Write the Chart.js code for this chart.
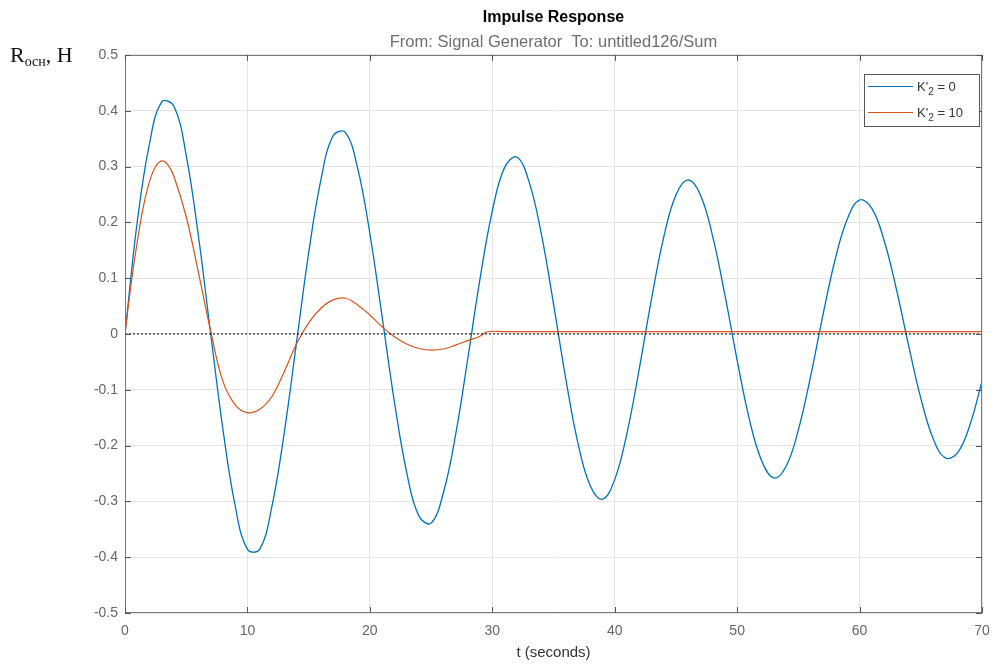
<!DOCTYPE html>
<html>
<head>
<meta charset="utf-8">
<script src="https://cdn.jsdelivr.net/npm/chart.js@4.4.0/dist/chart.umd.min.js"></script>
<style>
html, body { margin: 0; padding: 0; background: #fff; }
</style>
</head>
<body>
<canvas id="chart" width="992" height="664"></canvas>
<script>
// data
var xTicks = [0, 10, 20, 30, 40, 50, 60, 70];
var yTicks = [-0.5, -0.4, -0.3, -0.2, -0.1, 0, 0.1, 0.2, 0.3, 0.4, 0.5];

var blueT = [0, 1, 2, 3, 4, 5, 6, 7, 8, 9, 10, 11, 12, 13, 14, 15, 16, 17, 18, 19, 20,
	21, 22, 23, 24, 25, 26, 27, 28, 29, 30, 31, 32, 33, 34, 35, 36, 37, 38, 39, 40,
	41, 42, 43, 44, 45, 46, 47, 48, 49, 50, 51, 52, 53, 54, 55, 56, 57, 58, 59, 60,
	61, 62, 63, 64, 65, 66, 67, 68, 69, 70];
var blueY = [0, 0.201, 0.341, 0.416, 0.408, 0.320, 0.175, 0.000, -0.171, -0.308, -0.386,
	-0.386, -0.309, -0.178, -0.017, 0.145, 0.276, 0.355, 0.361, 0.297, 0.180,
	0.031, -0.121, -0.247, -0.326, -0.339, -0.285, -0.181, -0.044, 0.099, 0.220,
	0.298, 0.317, 0.273, 0.180, 0.054, -0.080, -0.196, -0.272, -0.296, -0.261,
	-0.178, -0.063, 0.062, 0.173, 0.249, 0.276, 0.249, 0.175, 0.070, -0.047,
	-0.153, -0.227, -0.258, -0.237, -0.172, -0.076, 0.033, 0.133, 0.206, 0.240,
	0.225, 0.168, 0.081, -0.020, -0.115, -0.187, -0.222, -0.213, -0.164, -0.085];

var orangeT = [0, 0.5, 1, 1.5, 2, 2.5, 3, 3.5, 4, 5, 6, 7, 8, 9, 10, 11, 12, 13, 14, 15,
	16, 17, 18, 19, 20, 21, 22, 23, 24, 25, 26, 27, 28, 29, 29.6, 31, 40, 50, 60, 70];
var orangeY = [0, 0.09, 0.165, 0.228, 0.273, 0.300, 0.310, 0.303, 0.282, 0.210, 0.110,
	0.005, -0.085, -0.127, -0.141, -0.135, -0.112, -0.068, -0.018, 0.020, 0.046,
	0.061, 0.064, 0.052, 0.034, 0.013, -0.005, -0.018, -0.026, -0.029, -0.027,
	-0.020, -0.012, -0.004, 0.004, 0.004, 0.004, 0.004, 0.004, 0.004];

// impulse spike of the second response at t = 0
var spikeT = [0, 0];
var spikeY = [-0.5, 0.5];

var zeroT = [0, 70];
var zeroY = [0, 0];

var seriesLabels = ["K'\u2082 = 0", "K'\u2082 = 10"];
var blueColor = '#0072BD';
var orangeColor = '#D95319';

function toPoints(xs, ys) {
	var pts = [];
	for (var i = 0; i < xs.length; i++) pts.push({ x: xs[i], y: ys[i] });
	return pts;
}

//draw text where the char \u2082 is a lowered small "2"
function drawSubText(ctx, str, x, y, size, family) {
	var parts = str.split('\u2082');
	for (var i = 0; i < parts.length; i++) {
		ctx.font = size + 'px ' + family;
		ctx.fillText(parts[i], x, y);
		x += ctx.measureText(parts[i]).width;
		if (i < parts.length - 1) {
			ctx.font = (size * 0.78) + 'px ' + family;
			ctx.fillText('2', x, y + size * 0.32);
			x += ctx.measureText('2').width;
		}
	}
}

var boxPlugin = {
	id: 'boxPlugin',
	afterDraw: function (chart) {
		var ctx = chart.ctx;
		var a = chart.chartArea;
		var xs = chart.scales.x, ys = chart.scales.y;
		ctx.save();

		//axes box
		ctx.strokeStyle = '#7a7a7a';
		ctx.lineWidth = 1;
		ctx.strokeRect(Math.round(a.left) + 0.5, Math.round(a.top) + 0.5,
			Math.round(a.right - a.left) - 1, Math.round(a.bottom - a.top) - 1);

		//inward ticks
		ctx.strokeStyle = '#555';
		ctx.beginPath();
		for (var i = 0; i < xTicks.length; i++) {
			var px = Math.round(xs.getPixelForValue(xTicks[i])) + 0.5;
			ctx.moveTo(px, a.bottom); ctx.lineTo(px, a.bottom - 6);
			ctx.moveTo(px, a.top); ctx.lineTo(px, a.top + 6);
		}
		for (var j = 0; j < yTicks.length; j++) {
			var py = Math.round(ys.getPixelForValue(yTicks[j])) + 0.5;
			ctx.moveTo(a.left, py); ctx.lineTo(a.left + 6, py);
			ctx.moveTo(a.right, py); ctx.lineTo(a.right - 6, py);
		}
		ctx.stroke();

		//legend
		var lx = 864.5, ly = 74.5, lw = 115, lh = 52;
		ctx.fillStyle = '#fff';
		ctx.fillRect(lx, ly, lw, lh);
		ctx.strokeStyle = '#555';
		ctx.strokeRect(lx, ly, lw, lh);
		var colors = [blueColor, orangeColor];
		for (var k = 0; k < seriesLabels.length; k++) {
			var rowY = 86 + k * 26;
			ctx.strokeStyle = colors[k];
			ctx.lineWidth = 1.2;
			ctx.beginPath();
			ctx.moveTo(868, rowY + 0.5);
			ctx.lineTo(913, rowY + 0.5);
			ctx.stroke();
			ctx.fillStyle = '#333';
			ctx.textBaseline = 'alphabetic';
			ctx.textAlign = 'left';
			drawSubText(ctx, seriesLabels[k], 917, rowY + 4.5, 13, '"Liberation Sans", Arial, sans-serif');
		}

		//quantity label at top left
		ctx.fillStyle = '#111';
		ctx.textBaseline = 'alphabetic';
		ctx.font = '22px "Liberation Serif", "Times New Roman", serif';
		ctx.fillText('R', 10, 62);
		var rx = 10 + ctx.measureText('R').width;
		ctx.font = '14px "Liberation Serif", "Times New Roman", serif';
		ctx.fillText('осн', rx, 66);
		rx += ctx.measureText('осн').width;
		ctx.font = '22px "Liberation Serif", "Times New Roman", serif';
		ctx.fillText(', Н', rx, 62);

		ctx.restore();
	}
};

Chart.defaults.font.family = '"Liberation Sans", Arial, sans-serif';

window.onload = function () {
	var ctx = document.getElementById('chart');
	new Chart(ctx, {
		type: 'line',
		data: {
			datasets: [{
				label: seriesLabels[0],
				data: toPoints(blueT, blueY),
				borderColor: blueColor,
				borderWidth: 1.3,
				pointRadius: 0,
				tension: 0.4,
				fill: false,
				order: 2
			},
			{
				label: seriesLabels[1],
				data: toPoints(orangeT, orangeY),
				borderColor: orangeColor,
				borderWidth: 1.2,
				pointRadius: 0,
				tension: 0.4,
				fill: false,
				order: 1
			},
			{
				label: 'spike',
				data: toPoints(spikeT, spikeY),
				borderColor: orangeColor,
				borderWidth: 2,
				pointRadius: 0,
				tension: 0,
				fill: false,
				order: 1
			},
			{
				label: 'zero',
				data: toPoints(zeroT, zeroY),
				borderColor: '#000',
				borderWidth: 1,
				borderDash: [2, 2],
				pointRadius: 0,
				tension: 0,
				fill: false,
				order: 0
			}]
		},
		options: {
			responsive: false,
			animation: false,
			devicePixelRatio: 1,
			layout: { padding: { left: 0, right: 10, top: 0, bottom: 0 } },
			plugins: {
				legend: { display: false },
				tooltip: { enabled: false },
				title: {
					display: true,
					fullSize: false,
					text: 'Impulse Response',
					color: '#000',
					font: { size: 16, weight: 'bold' },
					padding: { top: 7.9, bottom: 2 }
				},
				subtitle: {
					display: true,
					fullSize: false,
					text: 'From: Signal Generator  To: untitled126/Sum',
					color: '#6e6e6e',
					font: { size: 16.5 },
					padding: { top: 3.8, bottom: 2.2 }
				}
			},
			scales: {
				x: {
					type: 'linear',
					min: 0,
					max: 70,
					afterBuildTicks: function (scale) {
						scale.ticks = xTicks.map(function (v) { return { value: v }; });
					},
					afterFit: function (scale) {
						scale.height = 51;
						scale.paddingLeft = 0;
						scale.paddingRight = 0;
					},
					ticks: {
						color: '#666',
						font: { size: 14 },
						padding: 10,
						maxRotation: 0,
						callback: function (v) { return String(v); }
					},
					grid: { color: '#e4e4e4', drawTicks: false },
					border: { display: false },
					title: {
						display: true,
						text: 't (seconds)',
						color: '#333',
						font: { size: 15 },
						padding: { top: 0, bottom: 2 }
					}
				},
				y: {
					type: 'linear',
					min: -0.5,
					max: 0.5,
					afterBuildTicks: function (scale) {
						scale.ticks = yTicks.map(function (v) { return { value: v }; });
					},
					afterFit: function (scale) { scale.width = 125; },
					ticks: {
						color: '#666',
						font: { size: 14 },
						padding: 7,
						callback: function (v) { return String(Math.round(v * 10) / 10); }
					},
					grid: { color: '#e4e4e4', drawTicks: false },
					border: { display: false }
				}
			}
		},
		plugins: [boxPlugin]
	});
};
</script>
</body>
</html>
